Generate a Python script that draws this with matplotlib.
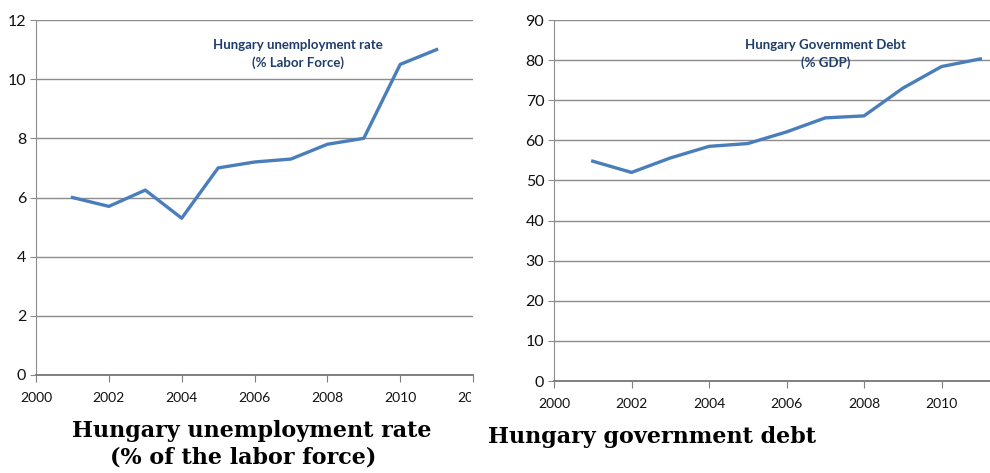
import matplotlib.pyplot as plt
from matplotlib.transforms import Bbox, TransformedBbox

# Hungary, 2001-2011
years = [2001, 2002, 2003, 2004, 2005, 2006, 2007, 2008, 2009, 2010, 2011]
unemployment = [6.0, 5.7, 6.25, 5.3, 7.0, 7.2, 7.3, 7.8, 8.0, 10.5, 11.0]
debt = [54.8, 52.0, 55.6, 58.5, 59.2, 62.1, 65.6, 66.1, 73.0, 78.4, 80.3]

year_ticks = [2000, 2002, 2004, 2006, 2008, 2010, 2012]
unemp_ticks = [0, 2, 4, 6, 8, 10, 12]
debt_ticks = [0, 10, 20, 30, 40, 50, 60, 70, 80, 90]

line_col = "#4a7ebb"
note_col = "#1f3d6b"
grid_col = "#8c8c8c"
tick_font = ["Lato", "DejaVu Sans"]
title_font = ["DejaVu Serif"]

fig = plt.figure(figsize=(9.9, 4.73), dpi=100)
ax1 = fig.add_axes([0.0364, 0.2072, 0.4414, 0.7505])
ax2 = fig.add_axes([0.5596, 0.1945, 0.4404, 0.7632])


def style(ax, yticks, ylim, xlim):
    ax.set_xticks([t for t in year_ticks if t <= xlim[1]])
    ax.set_yticks(yticks)
    ax.set_xlim(*xlim)
    ax.set_ylim(*ylim)
    ax.yaxis.grid(True, color=grid_col, lw=1.0)
    ax.set_axisbelow(True)
    for s in ["top", "right"]:
        ax.spines[s].set_visible(False)
    ax.spines["left"].set_color(grid_col)
    ax.spines["bottom"].set_color("#7f7f7f")
    ax.spines["bottom"].set_linewidth(1.4)
    ax.tick_params(axis="y", length=4, color=grid_col, pad=3, labelsize=11.5,
                   labelcolor="#111111")
    ax.tick_params(axis="x", length=5, color="#7f7f7f", pad=7, labelsize=10,
                   labelcolor="#111111")
    for lbl in ax.get_xticklabels() + ax.get_yticklabels():
        lbl.set_family(tick_font)


style(ax1, unemp_ticks, (0, 12), (2000, 2012))
ax1.plot(years, unemployment, color=line_col, lw=2.4, solid_joinstyle="round")
ax1.text(2007.2, 10.85, "Hungary unemployment rate\n(% Labor Force)", color=note_col,
         fontsize=9.5, fontweight="bold", ha="center", va="center", family=tick_font,
         linespacing=1.5)

style(ax2, debt_ticks, (0, 90), (2000, 2011.25))
ax2.plot(years, debt, color=line_col, lw=2.4, solid_joinstyle="round")
ax2.text(2007.0, 81.5, "Hungary Government Debt\n(% GDP)", color=note_col,
         fontsize=9.5, fontweight="bold", ha="center", va="center", family=tick_font,
         linespacing=1.5)

# the last year label of the left panel is cut off by the right panel
for lbl in ax1.get_xticklabels():
    lbl.set_clip_on(True)
    lbl.set_clip_box(TransformedBbox(Bbox([[0, 0], [471 / 990, 1]]), fig.transFigure))

fig.text(0.254, 1 - 437 / 473, "Hungary unemployment rate", ha="center", va="baseline",
         fontsize=16, fontweight="bold", family=title_font)
fig.text(0.246, 1 - 463 / 473, "(% of the labor force)", ha="center", va="baseline",
         fontsize=16, fontweight="bold", family=title_font)
fig.text(488 / 990, 1 - 443 / 473, "Hungary government debt", ha="left", va="baseline",
         fontsize=16, fontweight="bold", family=title_font)

fig.savefig("out.png", dpi=100)
